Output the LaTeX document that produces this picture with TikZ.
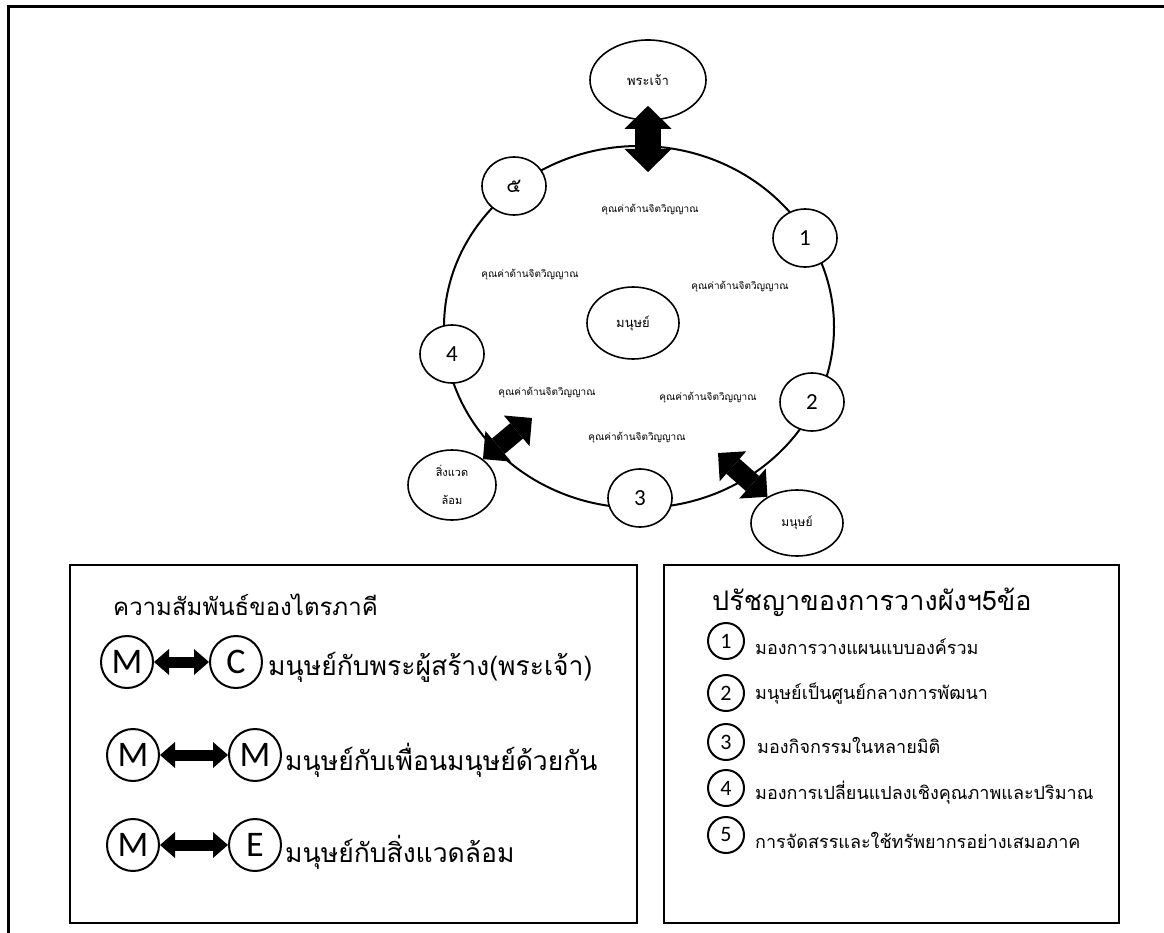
\documentclass[tikz,border=0pt]{standalone}
\usepackage{fontspec}
\setmainfont{Carlito}
\newfontfamily\thai[Script=Thai]{Loma}
\usetikzlibrary{arrows.meta,shapes.geometric}
\tikzset{
  ell/.style={draw, ellipse, line width=1.6pt, fill=white, inner sep=0pt, align=center},
  numsty/.style={draw, ellipse, line width=1.6pt, fill=white, inner sep=0pt,
    minimum width=64pt, minimum height=58pt, font=\fontsize{23}{25}\selectfont},
  vlab/.style={font=\thai\fontsize{10}{12}\selectfont, inner sep=0pt},
  bigarrow/.style={line width=26pt,
    {Triangle[width=47pt 0 0,length=23pt 0 0,line width=0pt 0 0]}-{Triangle[width=47pt 0 0,length=23pt 0 0,line width=0pt 0 0]}},
  diagarrow/.style={line width=20pt,
    {Triangle[width=40pt 0 0,length=20pt 0 0,line width=0pt 0 0]}-{Triangle[width=40pt 0 0,length=20pt 0 0,line width=0pt 0 0]}},
  smallarrow/.style={line width=11pt,
    {Triangle[width=26pt 0 0,length=15pt 0 0,line width=0pt 0 0]}-{Triangle[width=26pt 0 0,length=15pt 0 0,line width=0pt 0 0]}},
  boxsty/.style={draw, line width=2.5pt},
  lc/.style={draw, circle, line width=2pt, minimum size=52pt, inner sep=0pt,
    font=\fontsize{36}{38}\selectfont},
  ltext/.style={anchor=west, inner sep=0pt, font=\thai\fontsize{26.5}{28}\selectfont},
  rc/.style={draw, circle, line width=2pt, minimum size=36pt, inner sep=0pt,
    font=\fontsize{22}{24}\selectfont},
  rtext/.style={anchor=west, inner sep=0pt, font=\thai\fontsize{18}{20}\selectfont},
  titleL/.style={anchor=west, inner sep=0pt, font=\thai\fontsize{24}{26}\selectfont},
  titleR/.style={anchor=west, inner sep=0pt, font=\thai\fontsize{27}{29}\selectfont}
}
\begin{document}
\begin{tikzpicture}[x=1pt,y=-1pt]
\useasboundingbox (0,0) rectangle (1164,933);
\fill[white] (0,0) rectangle (1164,933);
% outer frame
\draw[line width=3pt] (8,933) -- (8,7) -- (1164,7);

% big ring
\node[draw, ellipse, line width=2pt, minimum width=390pt, minimum height=362pt, inner sep=0pt] (ring) at (639,327) {};

% outer ellipses
\node[ell, minimum width=116pt, minimum height=80pt, font=\thai\fontsize{13}{15}\selectfont] (god) at (648,80) {พระเจ้า};
\node[ell, minimum width=92pt, minimum height=72pt, font=\thai\fontsize{13}{15}\selectfont] (man) at (633,323) {มนุษย์};
\node[ell, minimum width=88pt, minimum height=70pt, font=\thai\fontsize{11}{28}\selectfont] (env) at (452,485) {สิ่งแวด\\ล้อม};
\node[ell, minimum width=92pt, minimum height=66pt, font=\thai\fontsize{12}{14}\selectfont] (man2) at (797,523) {มนุษย์};

% value labels
\node[vlab] (v1) at (650,210) {คุณค่าด้านจิตวิญญาณ};
\node[vlab] (v2) at (740,287) {คุณค่าด้านจิตวิญญาณ};
\node[vlab] (v3) at (530,275) {คุณค่าด้านจิตวิญญาณ};
\node[vlab] (v4) at (547,393) {คุณค่าด้านจิตวิญญาณ};
\node[vlab] (v5) at (708,398) {คุณค่าด้านจิตวิญญาณ};
\node[vlab] (v6) at (637,438) {คุณค่าด้านจิตวิญญาณ};

% numbered circles on ring
\node[numsty, font=\thai\fontsize{20}{22}\selectfont] (n5) at (514,186) {๕};
\node[numsty] (n1) at (805,238) {1};
\node[numsty] (n2) at (812,402) {2};
\node[numsty] (n3) at (640,498) {3};
\node[numsty] (n4) at (452,354) {4};

% big arrows
\coordinate (godT) at (648,172);
\coordinate (envT) at (532,418);
\coordinate (manT) at (718,453);
\draw[bigarrow, shorten <=-15pt] (god) -- (godT);
\draw[diagarrow] (env) -- (envT);
\draw[diagarrow] (man2) -- (manT);

% left box
\draw[boxsty] (70,565) rectangle (637,923);
\node[titleL] (lt) at (113,605) {ความสัมพันธ์ของไตรภาคี};
\node[lc] (m1) at (127,662) {M};
\node[lc] (c1) at (236,662) {C};
\draw[smallarrow] (m1) -- (c1);
\node[ltext] (t1) at (268,667) {มนุษย์กับพระผู้สร้าง(พระเจ้า)};
\node[lc] (m2) at (133,755) {M};
\node[lc] (m3) at (255,755) {M};
\draw[smallarrow] (m2) -- (m3);
\node[ltext] (t2) at (285,760) {มนุษย์กับเพื่อนมนุษย์ด้วยกัน};
\node[lc] (m4) at (133,845) {M};
\node[lc] (e1) at (255,845) {E};
\draw[smallarrow] (m4) -- (e1);
\node[ltext] (t3) at (285,852) {มนุษย์กับสิ่งแวดล้อม};

% right box
\draw[boxsty] (664,565) rectangle (1119,923);
\node[titleR] (rt) at (712,602) {ปรัชญาของการวางผังฯ5ข้อ};
\node[rc] (r1) at (726,641) {1};
\node[rtext] (s1) at (755,647) {มองการวางแผนแบบองค์รวม};
\node[rc] (r2) at (726,693) {2};
\node[rtext] (s2) at (755,694) {มนุษย์เป็นศูนย์กลางการพัฒนา};
\node[rc] (r3) at (726,742) {3};
\node[rtext] (s3) at (757,745) {มองกิจกรรมในหลายมิติ};
\node[rc] (r4) at (726,788) {4};
\node[rtext] (s4) at (755,793) {มองการเปลี่ยนแปลงเชิงคุณภาพและปริมาณ};
\node[rc] (r5) at (726,835) {5};
\node[rtext] (s5) at (755,840) {การจัดสรรและใช้ทรัพยากรอย่างเสมอภาค};
\end{tikzpicture}
\end{document}
